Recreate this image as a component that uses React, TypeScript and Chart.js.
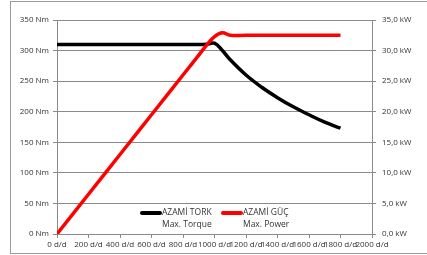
import React, { useEffect, useRef } from "react";
import { Chart, registerables } from "chart.js";

Chart.register(...registerables);

const rpm = [0, 200, 400, 600, 800, 900, 950, 1000, 1050, 1100, 1200, 1300, 1400, 1500, 1600, 1700, 1800];
const torqueNm = [310, 310, 310, 310, 310, 310, 310.5, 312, 300, 285, 260, 240, 223, 208, 195, 183, 173];
const powerKw = [0, 6.5, 13, 19.5, 26, 29.25, 30.9, 32.3, 32.9, 32.5, 32.5, 32.5, 32.5, 32.5, 32.5, 32.5, 32.5];

const xTicks = [0, 200, 400, 600, 800, 1000, 1200, 1400, 1600, 1800, 2000];
const legendTitles = ["AZAMİ TORK", "AZAMİ GÜÇ"];
const legendSubtitles = ["Max. Torque", "Max. Power"];

const GRID = "#8a8a8a";
const TEXT = "#333333";
const FONT = "'Open Sans', 'Noto Sans', sans-serif";
const COLORS = ["#000000", "#ff0000"];

const framePlugin = {
  id: "frame",
  beforeDraw(chart: any) {
    const ctx = chart.ctx;
    ctx.save();
    ctx.fillStyle = "#ffffff";
    ctx.fillRect(0, 0, chart.width, chart.height);
    ctx.strokeStyle = "#9a9a9a";
    ctx.lineWidth = 1;
    ctx.strokeRect(10.5, 1.5, chart.width + 10, chart.height - 3);
    ctx.restore();
  },
  afterDraw(chart: any) {
    const ctx = chart.ctx;
    const xs = [140, 221];
    const y = 213;
    ctx.save();
    ctx.font = "8.5px " + FONT;
    ctx.textBaseline = "middle";
    ctx.textAlign = "left";
    for (let i = 0; i < 2; i++) {
      ctx.strokeStyle = COLORS[i];
      ctx.lineWidth = 4;
      ctx.lineCap = "round";
      ctx.beginPath();
      ctx.moveTo(xs[i] + 2, y);
      ctx.lineTo(xs[i] + 20, y);
      ctx.stroke();
      ctx.fillStyle = TEXT;
      ctx.fillText(legendTitles[i], xs[i] + 22, y);
      ctx.fillText(legendSubtitles[i], xs[i] + 22, y + 12);
    }
    ctx.restore();
  },
};

export default function App() {
  const ref = useRef<HTMLCanvasElement | null>(null);
  useEffect(() => {
    document.body.style.margin = "0";
    const tickFont = { family: FONT, size: 8 };
    const chart = new Chart(ref.current as HTMLCanvasElement, {
      type: "scatter",
      data: {
        datasets: [
          {
            label: legendTitles[0],
            data: rpm.map((r, i) => ({ x: r, y: torqueNm[i] })),
            borderColor: COLORS[0],
            backgroundColor: COLORS[0],
            borderWidth: 3.5,
            showLine: true,
            pointRadius: 0,
            tension: 0.4,
            yAxisID: "y",
            order: 2,
          },
          {
            label: legendTitles[1],
            data: rpm.map((r, i) => ({ x: r, y: powerKw[i] })),
            borderColor: COLORS[1],
            backgroundColor: COLORS[1],
            borderWidth: 3.5,
            showLine: true,
            pointRadius: 0,
            tension: 0.4,
            yAxisID: "y1",
            order: 1,
          },
        ],
      },
      options: {
        animation: false,
        responsive: true,
        maintainAspectRatio: false,
        layout: { padding: { top: 20, left: 0, right: 0, bottom: 0 } },
        plugins: { legend: { display: false }, tooltip: { enabled: false } },
        scales: {
          x: {
            type: "linear",
            min: 0,
            max: 2000,
            afterBuildTicks: (s: any) => {
              s.ticks = xTicks.map((v) => ({ value: v }));
            },
            ticks: {
              autoSkip: false,
              maxRotation: 0,
              minRotation: 0,
              font: tickFont,
              color: TEXT,
              padding: 2,
              callback: (v: any) => `${v} d/d`,
            },
            grid: { drawOnChartArea: false, drawTicks: true, tickLength: 4, color: GRID },
            border: { color: GRID },
            afterFit: (s: any) => {
              s.height = 21;
            },
          },
          y: {
            position: "left",
            min: 0,
            max: 350,
            ticks: { stepSize: 50, font: tickFont, color: TEXT, padding: 4, callback: (v: any) => `${v} Nm` },
            grid: { color: GRID, tickLength: 4 },
            border: { color: GRID },
            afterFit: (s: any) => {
              s.width = 57;
            },
          },
          y1: {
            position: "right",
            min: 0,
            max: 35,
            ticks: {
              stepSize: 5,
              font: tickFont,
              color: TEXT,
              padding: 6,
              callback: (v: any) => `${Number(v).toFixed(1).replace(".", ",")} kW`,
            },
            grid: { drawOnChartArea: false, color: GRID, tickLength: 4 },
            border: { color: GRID },
            afterFit: (s: any) => {
              s.width = 55;
            },
          },
        },
      },
      plugins: [framePlugin],
    } as any);
    return () => chart.destroy();
  }, []);
  return (
    <div style={{ position: "absolute", left: 0, top: 0, width: 427, height: 255 }}>
      <canvas ref={ref} />
    </div>
  );
}
